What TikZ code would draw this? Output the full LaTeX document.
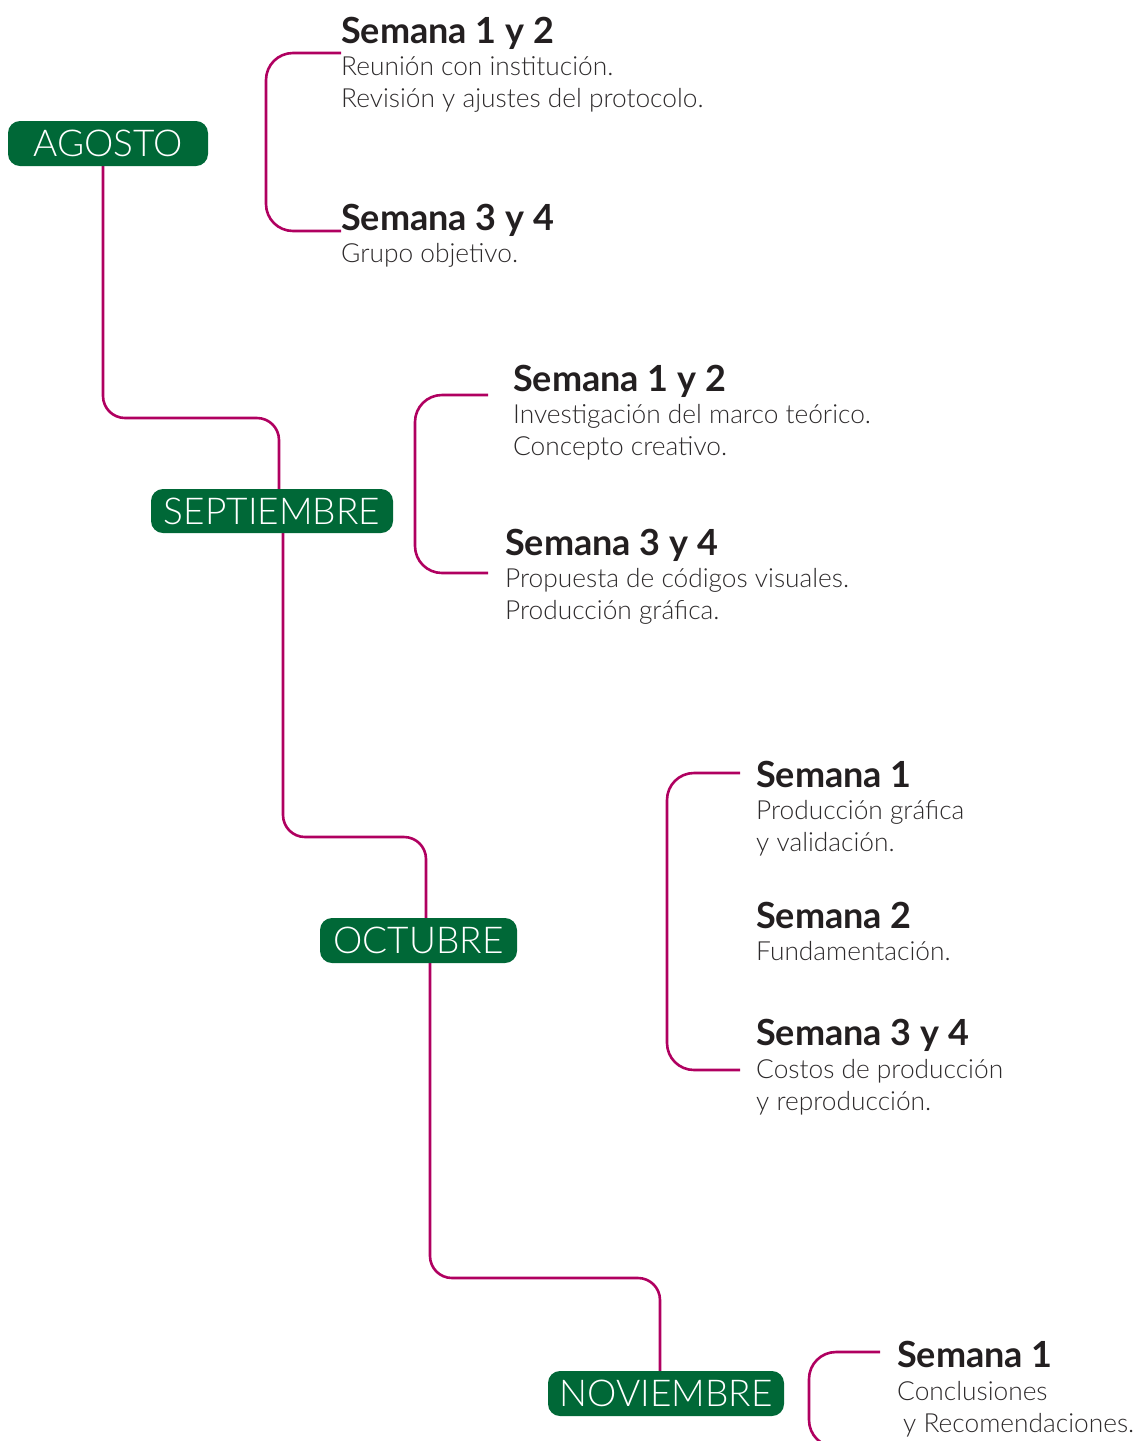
\documentclass[tikz,border=0pt]{standalone}
\usepackage{fontspec}
\setmainfont{Lato}
\newfontfamily\lightf{Lato Light}
\newfontfamily\boldf{Lato Bold}
\usetikzlibrary{backgrounds}
\definecolor{pillgreen}{RGB}{0,104,55}
\definecolor{linemag}{RGB}{176,0,96}
\definecolor{headc}{RGB}{35,31,32}
\definecolor{bodyc}{RGB}{45,42,43}
\tikzset{
  pill/.style={fill=pillgreen, rounded corners=12pt, inner sep=0pt, text=white,
    font=\lightf\fontsize{37}{37}\selectfont},
  tl/.style={draw=linemag, line width=2.6pt, rounded corners=22pt},
  br/.style={draw=linemag, line width=2.6pt, rounded corners=27pt},
  head/.style={anchor=base west, inner sep=0pt, text=headc, font=\boldf\fontsize{36}{36}\selectfont},
  body/.style={anchor=base west, inner sep=0pt, text=bodyc, font=\lightf\fontsize{26.3}{26}\selectfont},
}
\begin{document}
\begin{tikzpicture}[x=1pt,y=-1pt]
\useasboundingbox (0,0) rectangle (1138,1441);
\clip (0,0) rectangle (1138,1441);
% month pills
\node[pill, minimum width=200pt, minimum height=45pt] (ago) at (108,143.5) {AGOSTO};
\node[pill, minimum width=242pt, minimum height=44pt] (sep) at (272,511) {SEPTIEMBRE};
\node[pill, minimum width=197pt, minimum height=45pt] (oct) at (418.5,940.5) {OCTUBRE};
\node[pill, minimum width=236pt, minimum height=45pt] (nov) at (666,1393.5) {NOVIEMBRE};
% AGOSTO texts
\node[head] (a1h) at (341,43) {Semana 1 y 2};
\node[body] (a1b1) at (341,75) {Reunión con institución.};
\node[body] (a1b2) at (341,107) {Revisión y ajustes del protocolo.};
\node[head] (a2h) at (341,230) {Semana 3 y 4};
\node[body] (a2b1) at (341,262) {Grupo objetivo.};
% SEPTIEMBRE texts
\node[head] (s1h) at (513,391) {Semana 1 y 2};
\node[body] (s1b1) at (513,423) {Investigación del marco teórico.};
\node[body] (s1b2) at (513,455) {Concepto creativo.};
\node[head] (s2h) at (505,555) {Semana 3 y 4};
\node[body] (s2b1) at (505,587) {Propuesta de códigos visuales.};
\node[body] (s2b2) at (505,619) {Producción gráfica.};
% OCTUBRE texts
\node[head] (o1h) at (756,787) {Semana 1};
\node[body] (o1b1) at (756,819) {Producción gráfica};
\node[body] (o1b2) at (756,851) {y validación.};
\node[head] (o2h) at (756,928) {Semana 2};
\node[body] (o2b1) at (756,960) {Fundamentación.};
\node[head] (o3h) at (756,1045) {Semana 3 y 4};
\node[body] (o3b1) at (756,1078) {Costos de producción};
\node[body] (o3b2) at (756,1110) {y reproducción.};
% NOVIEMBRE texts
\node[head] (n1h) at (897,1367) {Semana 1};
\node[body] (n1b1) at (897,1400) {Conclusiones};
\node[body] (n1b2) at (903,1432) {y Recomendaciones.};
% connectors
\begin{scope}[on background layer]
\draw[tl] (ago.south -| 103,0) -- (103,418) -- (279,418) -- (sep.north -| 279,0);
\draw[tl] (sep.south -| 283,0) -- (283,837) -- (426,837) -- (oct.north -| 426,0);
\draw[tl] (oct.south -| 430,0) -- (430,1278) -- (660,1278) -- (nov.north -| 660,0);
\draw[br] (a1h.west |- 0,53) -- (266,53) -- (266,231) -- (a2h.west |- 0,231);
\draw[br] (488,395) -- (415,395) -- (415,573) -- (488,573);
\draw[br] (740,773) -- (667,773) -- (667,1070) -- (740,1070);
\draw[br] (880,1352) -- (809,1352) -- (809,1447) -- (880,1447);
\end{scope}
\end{tikzpicture}
\end{document}
